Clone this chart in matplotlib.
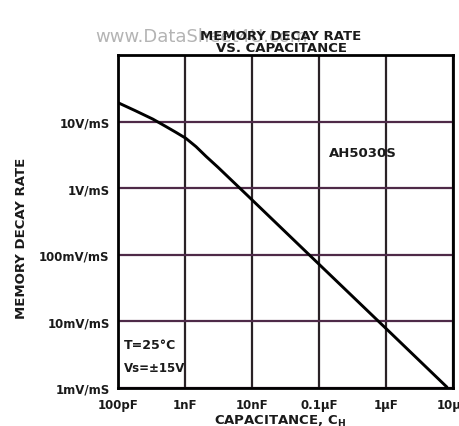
import matplotlib
matplotlib.use('Agg')
import matplotlib.pyplot as plt

# values (AH5030S)
capacitance = [100e-12, 180e-12, 330e-12, 500e-12, 730e-12, 1.03e-9, 1.46e-9,
               2.06e-9, 3.1e-9, 8.4e-9, 100e-9, 1e-6, 8.1e-6]
decay_rate = [19.2, 14.6, 10.9, 8.6, 6.9, 5.6, 4.2,
              3.0, 2.06, 0.79, 0.072, 0.0078, 0.00103]   # V/ms

x_ticks = [1e-10, 1e-9, 1e-8, 1e-7, 1e-6, 1e-5]
x_labels = ['100pF', '1nF', '10nF', '0.1µF', '1µF', '10µF']
y_ticks = [1e-3, 1e-2, 1e-1, 1, 10]
y_labels = ['1mV/mS', '10mV/mS', '100mV/mS', '1V/mS', '10V/mS']

plt.rcParams['font.family'] = ['DejaVu Sans']
plt.rcParams['font.weight'] = 'bold'

fig = plt.figure(figsize=(4.6, 4.27), dpi=100)
ax = fig.add_axes([0.2565, 0.089, 0.7285, 0.78])

ax.set_xscale('log')
ax.set_yscale('log')
ax.set_xlim(1e-10, 1e-5)
ax.set_ylim(1e-3, 1e2)

ax.xaxis.grid(True, color='#2a2226', linewidth=1.6)
ax.yaxis.grid(True, color='#4e2a48', linewidth=1.6)
ax.set_axisbelow(True)

ax.plot(capacitance, decay_rate, color='black', linewidth=2.1,
        solid_capstyle='round', solid_joinstyle='round', zorder=3)

ax.set_xticks(x_ticks)
ax.set_xticklabels(x_labels)
ax.set_yticks(y_ticks)
ax.set_yticklabels(y_labels)
ax.minorticks_off()
ax.tick_params(axis='both', length=0, labelsize=8.5, colors='#1a1a1a')
ax.tick_params(axis='x', pad=7)
ax.tick_params(axis='y', pad=6)

for s in ax.spines.values():
    s.set_linewidth(2.0)
    s.set_color('black')

ax.text(0.63, 0.706, 'AH5030S', transform=ax.transAxes, fontsize=9.5,
        color='#1a1a1a', va='center')
ax.text(0.018, 0.132, 'T=25°C', transform=ax.transAxes, fontsize=9,
        color='#1a1a1a', va='center')
ax.text(0.018, 0.063, 'Vs=±15V', transform=ax.transAxes, fontsize=8.5,
        color='#1a1a1a', va='center')

fig.text(95 / 460, 1 - 37 / 427, 'www.DataSheet4U.com', fontsize=13,
         fontweight='normal', color='#b4b4b4', va='center', ha='left')
fig.text(281 / 460, 1 - 37 / 427, 'MEMORY DECAY RATE', fontsize=9.5,
         color='#1a1a1a', va='center', ha='center')
fig.text(282 / 460, 1 - 48 / 427, 'VS. CAPACITANCE', fontsize=9.5,
         color='#1a1a1a', va='center', ha='center')
fig.text(22 / 460, 1 - 238 / 427, 'MEMORY DECAY RATE', fontsize=9.5,
         rotation=90, color='#1a1a1a', va='center', ha='center')
fig.text(280 / 460, 1 - 421 / 427, 'CAPACITANCE, C$_\\mathbf{H}$', fontsize=9.5,
         color='#1a1a1a', va='center', ha='center')

fig.savefig('out.png', dpi=100)
